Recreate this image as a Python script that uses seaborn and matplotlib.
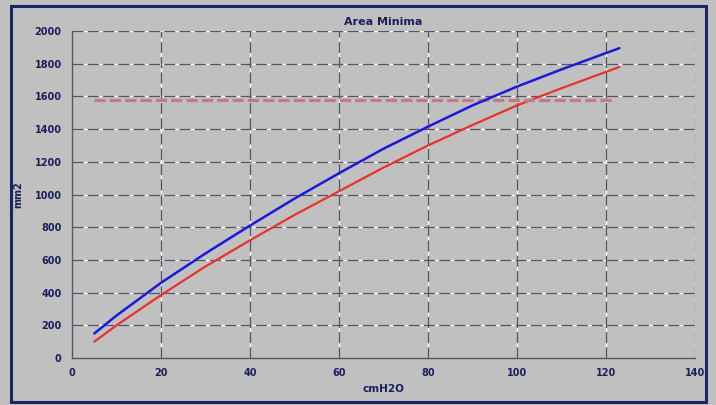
import numpy as np
import pandas as pd
import seaborn as sns
import matplotlib
matplotlib.use("Agg")
import matplotlib.pyplot as plt
from matplotlib.patches import Rectangle

# values
pressure = [5, 10, 20, 30, 40, 50, 60, 70, 80, 90, 100, 110, 123]
area_blue = [150, 260, 460, 640, 810, 975, 1130, 1280, 1415, 1545, 1660, 1765, 1895]
area_red = [100, 200, 385, 560, 720, 875, 1020, 1165, 1300, 1425, 1545, 1650, 1780]
ref_x = [5, 122]
ref_level = [1580, 1580]

sns.set_style("white")
plt.rcParams['font.family'] = ['DejaVu Sans']

bg = "#c0c0c0"
ink = "#1a1f5a"

fig = plt.figure(figsize=(7.16, 4.05), dpi=100, facecolor=bg)
ax = fig.add_axes([0.1006, 0.116, 0.8701, 0.8075])
ax.set_facecolor(bg)

# figure frame
fig.patches.append(Rectangle((0.016, 0.008), 0.970, 0.978, transform=fig.transFigure,
                             fill=False, edgecolor="#1c2466", linewidth=2.2))

df = pd.DataFrame({"x": pressure, "blue": area_blue, "red": area_red})
sns.lineplot(data=df, x="x", y="red", ax=ax, color="#e8322a", linewidth=1.6)
sns.lineplot(x=ref_x, y=ref_level, ax=ax, color="#c27a86", linewidth=2.3,
             linestyle=(0, (3.5, 1.3)))
sns.lineplot(data=df, x="x", y="blue", ax=ax, color="#1a1adc", linewidth=1.8)

ax.set_xlim(0, 140)
ax.set_ylim(0, 2000)
ax.set_xticks(range(0, 141, 20))
ax.set_yticks(range(0, 2001, 200))

# grid: white base with dark dashes on top
for v in range(20, 141, 20):
    ax.axvline(v, color="white", linewidth=1.0, zorder=0.5)
    ax.axvline(v, color="#555565", linewidth=1.0, linestyle=(0, (8, 3)), zorder=0.6)
for v in range(200, 2001, 200):
    ax.axhline(v, color="white", linewidth=1.0, zorder=0.5)
    ax.axhline(v, color="#555565", linewidth=1.0, linestyle=(0, (8, 3)), zorder=0.6)

for s in ["top", "right"]:
    ax.spines[s].set_visible(False)
for s in ["left", "bottom"]:
    ax.spines[s].set_color("#555566")
    ax.spines[s].set_linewidth(1.0)

ax.tick_params(axis="both", colors="#555566", labelcolor=ink, labelsize=7,
               length=4, width=1, direction="out")
for lab in ax.get_xticklabels() + ax.get_yticklabels():
    lab.set_fontweight("bold")

ax.set_title("Area Minima", fontsize=8, fontweight="bold", color=ink, pad=4)
ax.set_xlabel("cmH2O", fontsize=7.5, fontweight="bold", color=ink, labelpad=4)
ax.set_ylabel("mm2", fontsize=7, fontweight="bold", color=ink, labelpad=8)

fig.savefig("out.png", dpi=100, facecolor=bg)
